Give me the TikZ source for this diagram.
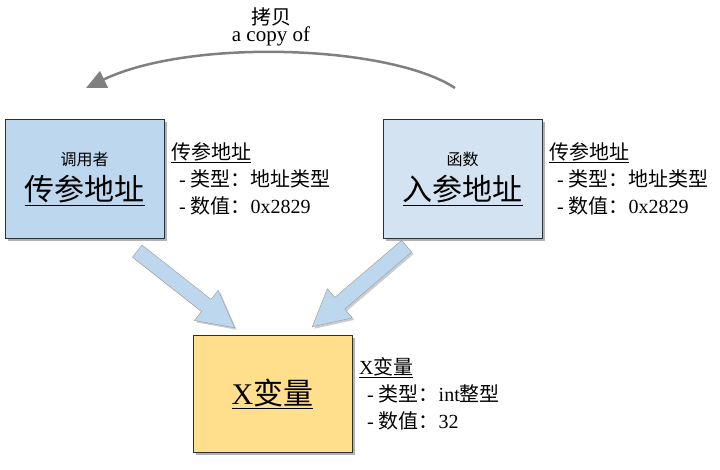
\documentclass[tikz,border=0pt]{standalone}
\usepackage{fontspec}
\setmainfont{Liberation Serif}
\newfontfamily\cjk{Noto Sans CJK SC}
\usepackage{tikz}
\usetikzlibrary{shapes.arrows, arrows.meta, positioning, shadows}
\definecolor{blue1}{RGB}{189, 215, 238}
\definecolor{blue2}{RGB}{212, 227, 241}
\definecolor{yellow1}{RGB}{255, 222, 140}
\definecolor{gray1}{RGB}{128, 128, 128}
\definecolor{edge1}{RGB}{40, 48, 58}

\begin{document}
\begin{tikzpicture}[x=1pt, y=-1pt,
  box/.style={draw=edge1, line width=1pt, minimum width=159pt, minimum height=119pt, align=center,
    drop shadow={shadow xshift=3pt, shadow yshift=-3pt, fill=black, opacity=0.3}},
  info/.style={align=left, font=\fontsize{20}{27}\selectfont},
  fat/.style={single arrow, draw=gray1!80, fill=blue1, minimum height=124pt,
    inner xsep=0pt, inner ysep=7.5pt, single arrow head extend=11.5pt, single arrow tip angle=56,
    drop shadow={shadow xshift=2pt, shadow yshift=-2pt, fill=black, opacity=0.2}}]
  \useasboundingbox (0,0) rectangle (720,469);

  % the three boxes
  \node[box, fill=blue1] (caller) at (84.5,178.5) {\fontsize{16}{20}\selectfont\cjk 调用者\\[8pt] \fontsize{30}{34}\selectfont\cjk\underline{传参地址}};
  \node[box, fill=blue2] (callee) at (462.5,178.5) {\fontsize{16}{20}\selectfont\cjk 函数\\[8pt] \fontsize{30}{34}\selectfont\cjk\underline{入参地址}};
  \node[box, fill=yellow1, minimum height=117pt] (xvar) at (272.5,393.5) {\fontsize{30}{34}\selectfont\underline{X\cjk 变量}};

  % side notes
  \node[info, right=3pt of caller] (callerInfo) {\cjk\underline{传参地址}\\
    \hspace*{8pt}-\hspace{5pt}\cjk 类型：地址类型\\
    \hspace*{8pt}-\hspace{5pt}\cjk 数值：\rmfamily 0x2829};
  \node[info, right=3pt of callee] (calleeInfo) {\cjk\underline{传参地址}\\
    \hspace*{8pt}-\hspace{5pt}\cjk 类型：地址类型\\
    \hspace*{8pt}-\hspace{5pt}\cjk 数值：\rmfamily 0x2829};
  \node[info, right=3pt of xvar] (xvarInfo) {\underline{X\cjk 变量}\\
    \hspace*{8pt}-\hspace{5pt}\cjk 类型：\rmfamily int\cjk 整型\\
    \hspace*{8pt}-\hspace{5pt}\cjk 数值：\rmfamily 32};

  % copy arrow
  \coordinate (copyStart) at (455,88);
  \coordinate (copyEnd) at (86,88);
  \draw[gray1, line width=2.5pt, -{Triangle[length=20pt, width=18pt]}] (copyStart) .. controls (390,45) and (190,38) .. (copyEnd);
  \node[align=center] (copyLabel) at (271,27) {\fontsize{20}{20}\selectfont\cjk 拷贝\\ \fontsize{21}{18}\selectfont\rmfamily a copy of};

  % block arrows into X
  \node[fat, anchor=tip, rotate=-38.2] (toXleft) at (235,328) {};
  \node[fat, anchor=tip, rotate=220.5] (toXright) at (312,327) {};
\end{tikzpicture}
\end{document}
